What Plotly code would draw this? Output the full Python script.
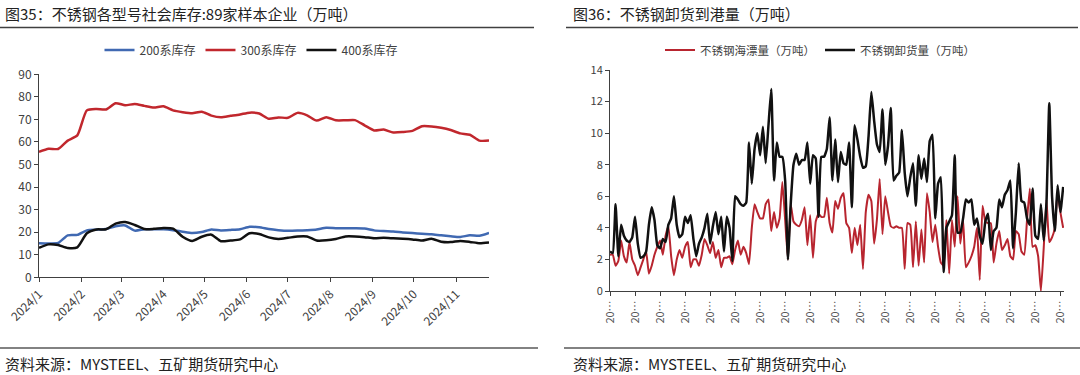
import pandas as pd
import plotly.graph_objects as go

# ---------------- Left chart data (weekly, 2024) ----------------
left_dates = pd.date_range("2024-01-01", periods=48, freq="7D")
s200 = [15.1, 15.0, 15.2, 18.6, 18.8, 20.8, 21.1, 21.4, 22.6, 23.0, 20.7, 21.3,
        21.3, 21.3, 20.9, 20.2, 19.6, 20.1, 21.2, 20.8, 21.0, 21.3, 22.4, 22.2,
        21.4, 20.9, 20.6, 20.7, 20.9, 21.2, 22.0, 21.8, 21.7, 21.7, 21.6, 20.8,
        20.5, 20.3, 19.9, 19.6, 19.3, 19.1, 18.6, 18.2, 17.9, 18.6, 18.4, 19.7]
s300 = [55.6, 57.0, 56.9, 60.6, 62.9, 74.0, 74.6, 74.4, 77.2, 76.3, 76.8, 76.0,
        75.3, 75.8, 74.0, 73.2, 72.7, 73.4, 71.7, 71.0, 71.6, 72.2, 73.0, 72.6,
        70.3, 70.9, 70.7, 72.9, 71.8, 69.5, 71.0, 69.6, 69.6, 69.7, 67.4, 65.1,
        65.5, 64.2, 64.4, 64.9, 67.0, 66.9, 66.3, 65.3, 63.8, 63.2, 60.6, 60.6]
s400 = [13.1, 14.6, 14.3, 13.0, 13.3, 19.5, 21.2, 21.3, 23.8, 24.5, 23.2, 21.4,
        21.5, 21.9, 21.6, 18.0, 16.1, 18.0, 18.9, 16.0, 16.3, 16.8, 19.5, 19.2,
        17.7, 17.0, 17.5, 18.1, 18.1, 16.3, 16.4, 17.0, 18.1, 18.1, 17.8, 17.3,
        17.5, 17.3, 17.1, 16.8, 16.3, 17.1, 15.8, 15.6, 16.1, 15.7, 15.1, 15.4]
left_tick_dates = pd.date_range("2024-01-01", periods=11, freq="MS")
left_tick_text = [f"2024/{m}" for m in range(1, 12)]

# ---------------- Right chart data ----------------
float_vol = [2.3, 2.3, 1.6, 1.9, 3.2, 2.2, 1.8, 3.1, 2.0, 1.6, 1.0, 1.5, 2.0, 2.5, 1.1, 1.6,
             2.3, 2.8, 3.2, 2.3, 3.5, 4.1, 2.2, 1.0, 2.0, 2.6, 2.1, 2.8, 3.1, 1.5, 2.0, 2.0,
             1.6, 2.3, 3.3, 2.9, 2.4, 3.1, 2.1, 2.6, 1.5, 2.1, 2.1, 2.2, 1.7, 2.6, 3.2, 2.3,
             2.8, 2.4, 1.7, 4.0, 5.5, 5.0, 4.6, 4.6, 5.5, 5.8, 3.8, 5.0, 4.0, 4.6, 6.9, 4.5,
             2.0, 5.5, 4.4, 4.2, 4.1, 4.5, 5.3, 2.9, 4.8, 2.1, 4.4, 4.9, 4.7, 4.7, 5.9, 4.3,
             3.7, 5.7, 5.2, 5.9, 6.2, 4.3, 4.0, 2.4, 4.0, 2.9, 4.2, 1.4, 5.0, 6.1, 5.7, 3.0,
             4.5, 7.1, 3.6, 6.0, 5.0, 4.1, 4.0, 4.1, 4.0, 4.0, 1.4, 4.3, 4.2, 1.5, 4.4, 1.6,
             3.9, 1.8, 6.2, 5.0, 3.1, 4.2, 2.8, 1.8, 1.6, 4.5, 1.1, 4.5, 2.8, 6.0, 3.0, 4.5,
             1.5, 1.8, 2.2, 2.8, 4.0, 0.7, 5.4, 4.4, 4.3, 4.3, 1.8, 3.0, 3.8, 2.6, 2.9, 3.3,
             2.2, 2.0, 3.8, 3.6, 2.5, 2.3, 4.5, 6.5, 2.8, 2.9, 2.2, 0.0, 2.7, 5.8, 3.1, 3.4,
             4.0, 6.3, 5.0, 4.0]
unload_vol = [2.5, 2.4, 5.5, 2.2, 4.2, 3.5, 3.2, 3.1, 3.4, 4.7, 3.0, 2.1, 2.2, 2.5, 4.2, 5.3,
              4.5, 2.9, 2.7, 3.3, 3.1, 4.2, 4.6, 6.0, 4.2, 3.4, 3.6, 4.7, 4.3, 4.8, 3.3, 2.2,
              3.0, 3.4, 4.0, 4.9, 3.0, 4.1, 5.0, 3.6, 4.7, 2.5, 4.7, 4.0, 1.9, 6.0, 5.8, 5.5,
              5.4, 5.6, 9.4, 6.8, 9.0, 10.0, 8.6, 10.4, 8.1, 10.5, 12.8, 7.0, 9.4, 8.5, 8.5, 7.0,
              2.0, 5.5, 8.0, 8.7, 8.0, 8.3, 8.3, 9.4, 6.8, 8.6, 8.4, 4.7, 8.5, 8.5, 9.0, 11.0,
              7.0, 9.6, 6.9, 8.8, 8.1, 8.0, 9.4, 5.3, 10.5, 9.6, 8.5, 7.8, 7.9, 9.8, 12.6, 10.8,
              9.3, 8.8, 11.5, 8.0, 9.2, 11.6, 7.0, 7.3, 7.5, 10.2, 7.5, 6.0, 7.2, 8.1, 5.4, 8.6,
              7.1, 8.4, 6.9, 9.5, 9.9, 4.6, 6.8, 7.2, 1.2, 4.0, 4.4, 4.8, 8.6, 3.7, 3.7, 4.6,
              5.8, 5.6, 5.8, 4.2, 4.6, 3.5, 3.0, 4.4, 4.9, 2.6, 3.8, 4.0, 5.8, 5.3, 6.1, 6.4,
              7.0, 2.7, 5.0, 8.1, 5.7, 5.6, 4.6, 4.2, 6.5, 3.5, 3.3, 5.5, 3.2, 5.6, 11.9, 6.0,
              3.8, 6.7, 5.0, 6.6]
right_x = list(range(len(unload_vol)))
right_tick_step = 9
right_tick_vals = list(range(0, len(unload_vol), right_tick_step))
right_tick_text = ["20…"] * len(right_tick_vals)

# ---------------- Styling ----------------
FONT = "Noto Sans CJK SC, Arial, sans-serif"
BLUE = "#4069B2"
RED = "#C1272D"
RED2 = "#B8252F"
BLACK = "#111111"
AX = "#404040"
W, H = 1080, 375

def px_x(v):
    return v / W

def px_y(v):
    return 1 - v / H

fig = go.Figure()

fig.add_trace(go.Scatter(x=left_dates, y=s200, name="200系库存", mode="lines",
                         line=dict(color=BLUE, width=2.5, shape="spline", smoothing=0.6),
                         xaxis="x", yaxis="y", legend="legend"))
fig.add_trace(go.Scatter(x=left_dates, y=s300, name="300系库存", mode="lines",
                         line=dict(color=RED, width=2.5, shape="spline", smoothing=0.6),
                         xaxis="x", yaxis="y", legend="legend"))
fig.add_trace(go.Scatter(x=left_dates, y=s400, name="400系库存", mode="lines",
                         line=dict(color=BLACK, width=2.5, shape="spline", smoothing=0.6),
                         xaxis="x", yaxis="y", legend="legend"))

fig.add_trace(go.Scatter(x=right_x, y=float_vol, name="不锈钢海漂量（万吨）", mode="lines",
                         line=dict(color=RED2, width=2, shape="spline", smoothing=0.4),
                         xaxis="x2", yaxis="y2", legend="legend2"))
fig.add_trace(go.Scatter(x=right_x, y=unload_vol, name="不锈钢卸货量（万吨）", mode="lines",
                         line=dict(color=BLACK, width=2.5, shape="spline", smoothing=0.4),
                         xaxis="x2", yaxis="y2", legend="legend2"))

axis_common = dict(showline=True, linecolor=AX, linewidth=1, ticks="outside",
                   tickcolor=AX, ticklen=4, showgrid=False, zeroline=False,
                   automargin=False)

fig.update_layout(
    width=W, height=375, autosize=False,
    margin=dict(l=0, r=0, t=0, b=0, autoexpand=False),
    paper_bgcolor="white", plot_bgcolor="white",
    font=dict(family=FONT, color="#333333"),
    xaxis=dict(domain=[px_x(39), px_x(489)], anchor="y",
               range=[left_dates[0], left_dates[-1]],
               tickvals=left_tick_dates, ticktext=left_tick_text, tickangle=-45,
               tickfont=dict(size=12, color=AX), **axis_common),
    yaxis=dict(domain=[px_y(277.3), px_y(74.3)], anchor="x", range=[0, 90],
               dtick=10, tickfont=dict(size=12, color=AX), **axis_common),
    xaxis2=dict(domain=[px_x(610), px_x(1064)], anchor="y2",
                range=[0, len(unload_vol) - 1 + 0.3],
                tickvals=right_tick_vals, ticktext=right_tick_text, tickangle=-90,
                tickfont=dict(size=11, color="#595959"), **axis_common),
    yaxis2=dict(domain=[px_y(291), px_y(70)], anchor="x2", range=[0, 14],
                dtick=2, tickfont=dict(size=11, color=AX), **axis_common),
    legend=dict(orientation="h", x=px_x(251), xanchor="center", y=px_y(50), yanchor="middle",
                font=dict(size=12, color=AX), itemwidth=30, bgcolor="rgba(0,0,0,0)",
                tracegroupgap=0),
    legend2=dict(orientation="h", x=px_x(820), xanchor="center", y=px_y(50), yanchor="middle",
                 font=dict(size=11.5, color=AX), itemwidth=30, bgcolor="rgba(0,0,0,0)"),
    showlegend=True,
)

annotations = [
    dict(text="图35：不锈钢各型号社会库存:89家样本企业（万吨）", x=px_x(3), y=px_y(14)),
    dict(text="图36：不锈钢卸货到港量（万吨）", x=px_x(571), y=px_y(14)),
]
for a in annotations:
    fig.add_annotation(xref="paper", yref="paper", xanchor="left", yanchor="middle",
                       showarrow=False, font=dict(size=15, color="#222222", family=FONT), **a)

for a in [dict(text="资料来源：MYSTEEL、五矿期货研究中心", x=px_x(3), y=px_y(363)),
          dict(text="资料来源：MYSTEEL、五矿期货研究中心", x=px_x(571), y=px_y(363))]:
    fig.add_annotation(xref="paper", yref="paper", xanchor="left", yanchor="middle",
                       showarrow=False, font=dict(size=15, color="#222222", family=FONT), **a)

shapes = [
    (0, 534, 27.5, "#404040", 1.5),
    (566, 1078, 27.5, "#404040", 1.5),
    (0, 538, 348, "#595959", 1.5),
    (564, 1080, 348, "#595959", 1.5),
]
for x0, x1, yy, c, w in shapes:
    fig.add_shape(type="line", xref="paper", yref="paper",
                  x0=px_x(x0), x1=px_x(x1), y0=px_y(yy), y1=px_y(yy),
                  line=dict(color=c, width=w))

fig.write_html("out.html",
               config={"displayModeBar": False},
               post_script="document.body.style.margin='0';document.body.style.overflow='hidden';")
